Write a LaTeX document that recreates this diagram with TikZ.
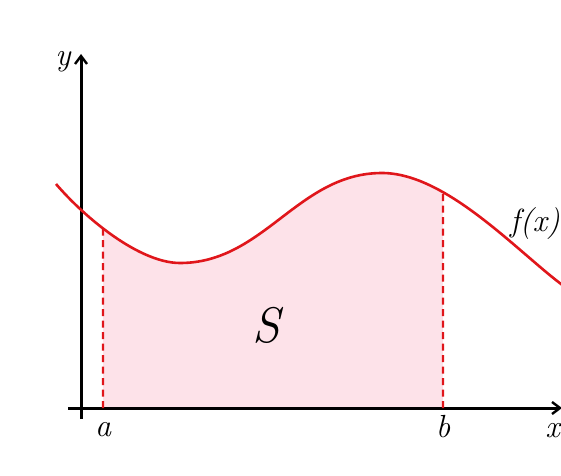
\documentclass[tikz,border=0pt]{standalone}
\usepackage{fontspec}
\usetikzlibrary{arrows.meta,intersections}
\definecolor{curvered}{HTML}{E0161B}
\definecolor{areapink}{HTML}{FDE2E9}
\begin{document}
\begin{tikzpicture}[x=1pt,y=1pt,
  axis/.style={line width=3pt,-{Straight Barb[length=8pt,width=12pt,line width=2.4pt]}},
  curve/.style={curvered,line width=2.6pt},
  dropline/.style={curvered,line width=2.4pt,dash pattern=on 7pt off 4.5pt},
  lbl/.style={font=\fontsize{32}{34}\selectfont\itshape,inner sep=0pt}]
\useasboundingbox (0,0) rectangle (561,475);
\def\fpath{(56,291) .. controls (86,256) and (140,212) .. (180,212)
  .. controls (264,212) and (298,302) .. (382,302)
  .. controls (445,302) and (515,226) .. (561,191) -- (580,176)}
% shaded area
\begin{scope}
  \clip \fpath -- (580,67) -- (56,67) -- cycle;
  \fill[areapink] (103,67) rectangle (443,475);
\end{scope}
% axes
\coordinate (xs) at (68,67);
\coordinate (xe) at (562,67);
\coordinate (ys) at (81,56);
\coordinate (ye) at (81,421);
\draw[axis] (xs) -- (xe);
\draw[axis] (ys) -- (ye);
% curve
\path[name path=fcurve] \fpath;
\path[name path=va] (103,60) -- (103,475);
\path[name path=vb] (443,60) -- (443,475);
\path[name intersections={of=fcurve and va,by=a1}];
\path[name intersections={of=fcurve and vb,by=b1}];
\coordinate (a0) at (103,67);
\coordinate (b0) at (443,67);
\draw[dropline] (a0) -- (a1);
\draw[dropline] (b0) -- (b1);
\draw[curve] \fpath;
% labels
\node[lbl] (ylab) at (63,413) {y};
\node[lbl,anchor=east] (xlab) at (560,44) {x};
\node[lbl] (alab) at (103,45) {a};
\node[lbl] (blab) at (443,48) {b};
\node[lbl,anchor=east] (flab) at (560,251) {f(x)};
\node[font=\fontsize{50}{54}\selectfont\itshape,inner sep=0pt] (S) at (266,150) {S};
\end{tikzpicture}
\end{document}
